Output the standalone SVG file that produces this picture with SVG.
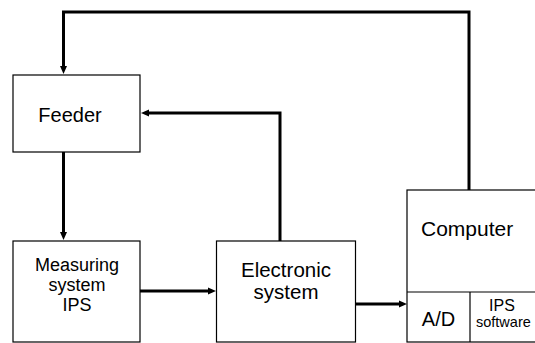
<svg xmlns="http://www.w3.org/2000/svg" width="535" height="343" viewBox="0 0 535 343">
<defs>
<marker id="ah" markerUnits="userSpaceOnUse" markerWidth="9" markerHeight="9" refX="2" refY="4" orient="auto">
<path d="M0,0.5 L8,4 L0,7.5 z" fill="#000"/>
</marker>
</defs>
<style>
.box{fill:#fff;stroke:#000;stroke-width:1.2}
.con{fill:none;stroke:#000;stroke-width:3;stroke-linejoin:miter}
text{font-family:"Liberation Sans",Arial,sans-serif;fill:#000}
</style>
<rect width="535" height="343" fill="#fff"/>
<g id="connectors">
<path class="con" d="M469,190 V12 H63.5 V68" marker-end="url(#ah)"/>
<path class="con" d="M280,241 V113 H147" marker-end="url(#ah)"/>
<path class="con" d="M63.5,152 V234" marker-end="url(#ah)"/>
<path class="con" d="M140,291 H210" marker-end="url(#ah)"/>
<path class="con" d="M356,304 H401" marker-end="url(#ah)"/>
</g>
<g id="feeder">
<rect class="box" x="13" y="75" width="127" height="77"/>
<text x="70" y="122" font-size="20" text-anchor="middle">Feeder</text>
</g>
<g id="measuring">
<rect class="box" x="13" y="241" width="127" height="101"/>
<text x="77" y="271" font-size="18" text-anchor="middle">Measuring</text>
<text x="77" y="291" font-size="18" text-anchor="middle">system</text>
<text x="77" y="311" font-size="18" text-anchor="middle">IPS</text>
</g>
<g id="electronic">
<rect class="box" x="216.5" y="241" width="139" height="101"/>
<text x="286" y="277" font-size="20.5" text-anchor="middle">Electronic</text>
<text x="286" y="299" font-size="20.5" text-anchor="middle">system</text>
</g>
<g id="computer">
<rect class="box" x="407" y="190" width="140" height="152"/>
<line x1="407" y1="292" x2="547" y2="292" stroke="#000" stroke-width="1.2"/>
<line x1="470" y1="292" x2="470" y2="342" stroke="#000" stroke-width="1.2"/>
<text x="421" y="236" font-size="21" text-anchor="start">Computer</text>
<text x="438.5" y="326" font-size="20" text-anchor="middle">A/D</text>
<text x="502" y="311" font-size="16" text-anchor="middle">IPS</text>
<text x="476" y="327" font-size="14.5" text-anchor="start">software</text>
</g>
</svg>
